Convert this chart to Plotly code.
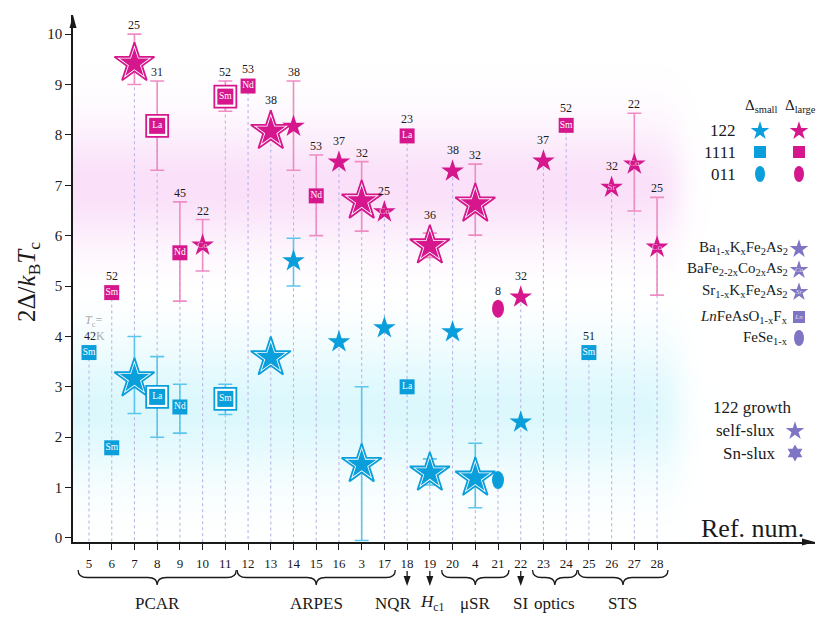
import numpy as np
import plotly.graph_objects as go

# reference numbers along the x axis, and Tc (K) printed above each column
refs = ["5", "6", "7", "8", "9", "10", "11", "12", "13", "14", "15", "16", "3",
        "17", "18", "19", "20", "4", "21", "22", "23", "24", "25", "26", "27", "28"]
tc = [42, 52, 25, 31, 45, 22, 52, 53, 38, 38, 53, 37, 32,
      25, 23, 36, 38, 32, 8, 32, 37, 52, 51, 32, 22, 25]

# large gap (magenta)
large = [None, 4.87, 9.42, 8.18, 5.66, 5.81, 8.76, 8.97, 8.07, 8.17, 6.79, 7.46, 6.69,
         6.47, 7.98, 5.80, 7.28, 6.63, 4.55, 4.78, 7.48, 8.19, None, 6.96, 7.42, 5.77]
large_kind = [None, "sq", "BS", "BQ", "sq", "st", "BQ", "sq", "BS", "st", "sq", "st", "BS",
              "st", "sq", "BS", "st", "BS", "el", "st", "st", "sq", None, "st", "st", "st"]
large_tag = ["", "Sm", "", "La", "Nd", "Co", "Sm", "Nd", "", "", "Nd", "", "",
             "Co", "La", "", "", "", "", "", "", "Sm", "", "Sr", "Co", "Co"]
large_lo = [None, None, 9.0, 7.3, 4.7, 5.3, 8.47, None, None, 7.3, 6.0, None, 6.09,
            None, None, 5.57, None, 6.01, None, None, None, None, None, None, 6.49, 4.82]
large_hi = [None, None, 10.0, 9.07, 6.67, 6.32, 9.07, None, None, 9.07, 7.6, None, 7.47,
            None, None, 6.05, None, 7.42, None, None, None, None, None, None, 8.43, 6.76]

# small gap (blue)
small = [3.68, 1.79, 3.16, 2.8, 2.6, None, 2.76, None, 3.58, 5.5, None, 3.89, 1.46,
         4.17, 3.0, 1.29, 4.09, 1.19, 1.15, 2.30, None, None, 3.68, None, None, None]
small_kind = ["sq", "sq", "BS", "BQ", "sq", None, "BQ", None, "BS", "st", None, "st", "BS",
              "st", "sq", "BS", "st", "BS", "el", "st", None, None, "sq", None, None, None]
small_tag = ["Sm", "Sm", "", "La", "Nd", "", "Sm", "", "", "", "", "", "",
             "", "La", "", "", "", "", "", "", "", "Sm", "", "", ""]
small_lo = [None, None, 2.47, 2.0, 2.08, None, 2.45, None, None, 5.0, None, None, -0.05,
            None, None, 1.05, None, 0.6, None, None, None, None, None, None, None, None]
small_hi = [None, None, 4.0, 3.6, 3.05, None, 3.05, None, None, 5.95, None, None, 3.0,
            None, None, 1.57, None, 1.88, None, None, None, None, None, None, None, None]

groups = [("PCAR", "5", "11"), ("ARPES", "12", "17"), ("μSR", "20", "21"),
          ("optics", "23", "24"), ("STS", "25", "28")]
singles = [("NQR", "18", -0.6), ("<i>H</i><sub>c1</sub>", "19", 0.1), ("SI", "22", 0.0)]

MAG, MAG_E = "#d5168c", "#ee8cc3"
BLU, BLU_E = "#0a9edb", "#5cc5ee"
PUR = "#7e76c4"
DOT = "#bdb5e6"
INK = "#1a1a1a"
FONT = "Liberation Serif"

# page has an 8px body margin, so the figure is 8px smaller each way
W, H = 822, 611
L, R, T, B = 65, 15, 7, 77
X0, X1 = -0.704, 31.95
Y0, Y1 = -0.08, 10.38
PX = (H - T - B) / (Y1 - Y0)
xi = list(range(len(refs)))


def py(p):
    # screen row (page pixels) -> paper y
    return (542 - p) / (H - T - B)


fig = go.Figure()

# soft coloured bands behind the data
gx = np.linspace(X0, 27.8, 150)
gy = np.linspace(Y0, Y1, 220)
GX, GY = np.meshgrid(gx, gy)
fade = 0.5 * (1 - np.tanh((GX - 25.9) / 0.7))
band = (np.exp(-0.5 * ((GY - 7.0) / 0.85) ** 2) - np.exp(-0.5 * ((GY - 2.55) / 0.95) ** 2)) * fade
fig.add_trace(go.Heatmap(x=gx, y=gy, z=band, zmin=-1, zmax=1, zsmooth="best", showscale=False,
                         hoverinfo="skip",
                         colorscale=[[0, "#dcf8fd"], [0.5, "#ffffff"], [1, "#fae0f9"]]))

# dotted drop lines
lx, ly = [], []
for i in xi:
    tops = [v for v in (large[i], small[i]) if v is not None]
    lx += [i, i, None]
    ly += [max(tops), Y0, None]
fig.add_trace(go.Scatter(x=lx, y=ly, mode="lines", hoverinfo="skip",
                         line=dict(color=DOT, width=1.1, dash="dot")))

shapes = []


def add_series(vals, kinds, tags, lo, hi, color, ecolor):
    ex = [i for i in xi if vals[i] is not None and lo[i] is not None]
    fig.add_trace(go.Scatter(
        x=ex, y=[vals[i] for i in ex], mode="markers", hoverinfo="skip",
        marker=dict(size=1, color="rgba(0,0,0,0)"),
        error_y=dict(type="data", array=[hi[i] - vals[i] for i in ex],
                     arrayminus=[vals[i] - lo[i] for i in ex],
                     color=ecolor, thickness=1.6, width=7)))

    def pick(k):
        idx = [i for i in xi if kinds[i] == k]
        return idx, [vals[i] for i in idx]

    ix, iy = pick("st")
    fig.add_trace(go.Scatter(x=ix, y=iy, mode="markers",
                             marker=dict(symbol="star", size=17, color=color, line_width=0)))
    ix, iy = pick("BS")
    fig.add_trace(go.Scatter(x=ix, y=iy, mode="markers",
                             marker=dict(symbol="star", size=30, color="white",
                                         line=dict(color=color, width=1.8))))
    fig.add_trace(go.Scatter(x=ix, y=iy, mode="markers",
                             marker=dict(symbol="star", size=22, color=color, line_width=0)))
    ix, iy = pick("sq")
    fig.add_trace(go.Scatter(x=ix, y=iy, mode="markers",
                             marker=dict(symbol="square", size=15, color=color, line_width=0)))
    ix, iy = pick("BQ")
    fig.add_trace(go.Scatter(x=ix, y=iy, mode="markers",
                             marker=dict(symbol="square", size=22, color="white",
                                         line=dict(color=color, width=1.8))))
    fig.add_trace(go.Scatter(x=ix, y=iy, mode="markers",
                             marker=dict(symbol="square", size=16, color=color, line_width=0)))
    ix, iy = pick("el")
    for i, v in zip(ix, iy):
        shapes.append(dict(type="circle", xref="x", yref="y", xsizemode="pixel", ysizemode="pixel",
                           xanchor=i, yanchor=v, x0=-6, x1=6, y0=-9, y1=9,
                           fillcolor=color, line_width=0))
    # labels inside the marks
    tq = [i for i in xi if tags[i] and kinds[i] in ("sq", "BQ")]
    fig.add_trace(go.Scatter(x=tq, y=[vals[i] for i in tq], text=[tags[i] for i in tq],
                             mode="text", textposition="middle center",
                             textfont=dict(family=FONT, size=9.5, color="white")))
    ts = [i for i in xi if tags[i] and kinds[i] == "st"]
    fig.add_trace(go.Scatter(x=ts, y=[vals[i] for i in ts], text=[tags[i] for i in ts],
                             mode="text", textposition="middle center",
                             textfont=dict(family=FONT, size=9, color="rgba(255,255,255,0.7)")))


add_series(small, small_kind, small_tag, small_lo, small_hi, BLU, BLU_E)
add_series(large, large_kind, large_tag, large_lo, large_hi, MAG, MAG_E)

ann = []
half = {"st": 12, "BS": 22, "sq": 8, "BQ": 12, "el": 9}
for i in xi:
    if large[i] is not None:
        v, k, h = large[i], large_kind[i], large_hi[i]
    else:
        v, k, h = small[i], small_kind[i], small_hi[i]
    up = half[k]
    if h is not None:
        up = max(up, (h - v) * PX)
    if i == 0:
        ann.append(dict(x=i, y=v, xref="x", yref="y", yshift=up, xshift=-7, xanchor="left",
                        yanchor="bottom", showarrow=False,
                        text="42<span style='color:#a9a9a9'>K</span>",
                        font=dict(family=FONT, size=12, color=INK)))
        ann.append(dict(x=i, y=v, xref="x", yref="y", yshift=up + 14, xshift=-6, xanchor="left",
                        yanchor="bottom", showarrow=False,
                        text="<i>T</i><sub>c</sub>=",
                        font=dict(family=FONT, size=12, color="#a9a9a9")))
        continue
    ann.append(dict(x=i, y=v, xref="x", yref="y", yshift=up, yanchor="bottom", showarrow=False,
                    text=str(tc[i]), font=dict(family=FONT, size=12, color=INK)))

# method groups under the axis
yt, yl, yb = py(570), py(577.5), py(585)
for name, a, b in groups:
    x0 = refs.index(a) - 0.48
    x1 = refs.index(b) + 0.48
    xm = (x0 + x1) / 2
    d = 0.4
    path = (f"M{x0},{yt} Q{x0},{yl} {x0 + d},{yl} L{xm - d},{yl} Q{xm},{yl} {xm},{yb} "
            f"Q{xm},{yl} {xm + d},{yl} L{x1 - d},{yl} Q{x1},{yl} {x1},{yt}")
    shapes.append(dict(type="path", xref="x", yref="paper", path=path,
                       line=dict(color=INK, width=1.3)))
    ann.append(dict(x=xm, y=py(603), xref="x", yref="paper", yanchor="middle", showarrow=False,
                    text=name, font=dict(family=FONT, size=17, color=INK)))
for name, r, dx in singles:
    i = refs.index(r)
    shapes.append(dict(type="line", xref="x", yref="paper", x0=i, x1=i, y0=py(571), y1=py(580),
                       line=dict(color=INK, width=1.3)))
    shapes.append(dict(type="path", xref="x", yref="paper", xsizemode="pixel", ysizemode="pixel",
                       xanchor=i, yanchor=py(586), path="M0,0 L-3.5,10 L3.5,10 Z",
                       fillcolor=INK, line_width=0))
    ann.append(dict(x=i + dx, y=py(603), xref="x", yref="paper", yanchor="middle",
                    showarrow=False, text=name, font=dict(family=FONT, size=17, color=INK)))

# axis arrow heads
shapes.append(dict(type="path", xref="paper", yref="paper", xsizemode="pixel", ysizemode="pixel",
                   xanchor=0, yanchor=1, path="M0,0 L-3.5,-13 L3.5,-13 Z",
                   fillcolor=INK, line_width=0))
shapes.append(dict(type="path", xref="paper", yref="paper", xsizemode="pixel", ysizemode="pixel",
                   xanchor=1, yanchor=0, path="M0,0 L-13,3.5 L-13,-3.5 Z",
                   fillcolor=INK, line_width=0))
ann.append(dict(x=(28 - 73) / (W - L - R), y=py(282), xref="paper", yref="paper",
                xanchor="center", yanchor="middle", showarrow=False, textangle=-90,
                text="2Δ/<i>k</i><sub>B</sub><i>T</i><sub>c</sub>",
                font=dict(family=FONT, size=25, color=INK)))


# legend drawn in screen-pixel space (x2/y2)
def lt(x, y, text, size=17, anchor="center", color=INK):
    ann.append(dict(x=x, y=y, xref="x2", yref="y2", showarrow=False, text=text, xanchor=anchor,
                    yanchor="middle", font=dict(family=FONT, size=size, color=color)))


def lm(x, y, symbol, size, color, tag=""):
    fig.add_trace(go.Scatter(x=[x], y=[y], xaxis="x2", yaxis="y2", mode="markers",
                             marker=dict(symbol=symbol, size=size, color=color, line_width=0)))
    if tag:
        fig.add_trace(go.Scatter(x=[x], y=[y], xaxis="x2", yaxis="y2", mode="text", text=[tag],
                                 textfont=dict(family=FONT, size=7, color="rgba(255,255,255,0.8)")))


def le(x, y, color):
    shapes.append(dict(type="circle", xref="x2", yref="y2", xsizemode="pixel", ysizemode="pixel",
                       xanchor=x, yanchor=y, x0=-5, x1=5, y0=-8, y1=8,
                       fillcolor=color, line_width=0))


lt(761, 106, "Δ<sub>small</sub>", 15)
lt(800, 106, "Δ<sub>large</sub>", 15)
for row, y in (("122", 130), ("1111", 152), ("011", 174)):
    lt(738, y, row, 17, "right")
lm(760, 131, "star", 14, BLU)
lm(799, 131, "star", 14, MAG)
lm(760, 152, "square", 12, BLU)
lm(799, 152, "square", 12, MAG)
le(760, 174, BLU)
le(799, 174, MAG)

lt(790, 248, "Ba<sub>1-x</sub>K<sub>x</sub>Fe<sub>2</sub>As<sub>2</sub>", 15, "right")
lt(790, 269, "BaFe<sub>2-2x</sub>Co<sub>2x</sub>As<sub>2</sub>", 15, "right")
lt(790, 291, "Sr<sub>1-x</sub>K<sub>x</sub>Fe<sub>2</sub>As<sub>2</sub>", 15, "right")
lt(790, 317, "<i>Ln</i>FeAsO<sub>1-x</sub>F<sub>x</sub>", 15, "right")
lt(790, 338, "FeSe<sub>1-x</sub>", 15, "right")
lm(799, 249, "star", 14, PUR)
lm(799, 270, "star", 14, PUR, "<i>Co</i>")
lm(799, 292, "star", 14, PUR, "<i>Sr</i>")
lm(799, 317, "square", 12, PUR, "<i>Ln</i>")
le(799, 338, PUR)

lt(752, 407, "122 growth", 17)
lt(777, 430, "self-slux", 17, "right")
lt(777, 453, "Sn-slux", 17, "right")
lm(795, 431, "star", 14, PUR)
lm(795, 453, "hexagram", 13, PUR)
lt(752, 528, "Ref. num.", 26)

fig.update_traces(showlegend=False)
fig.update_layout(
    width=W, height=H, margin=dict(l=L, r=R, t=T, b=B),
    paper_bgcolor="white", plot_bgcolor="white",
    font=dict(family=FONT, color=INK),
    xaxis=dict(range=[X0, X1], tickvals=xi, ticktext=refs, showgrid=False, zeroline=False,
               showline=True, linecolor=INK, linewidth=1.5, ticks="outside", ticklen=6,
               tickwidth=1.3, tickcolor=INK, ticklabelstandoff=3,
               tickfont=dict(family=FONT, size=13, color=INK)),
    yaxis=dict(range=[Y0, Y1], tickvals=list(range(11)), showgrid=False, zeroline=False,
               showline=True, linecolor=INK, linewidth=1.5, ticks="outside", ticklen=6,
               tickwidth=1.3, tickcolor=INK,
               tickfont=dict(family=FONT, size=15, color=INK)),
    xaxis2=dict(overlaying="x", anchor="y2", range=[73, 815], visible=False),
    yaxis2=dict(overlaying="y", anchor="x2", range=[542, 15], visible=False),
    shapes=shapes, annotations=ann,
)

fig.write_html("out.html")
